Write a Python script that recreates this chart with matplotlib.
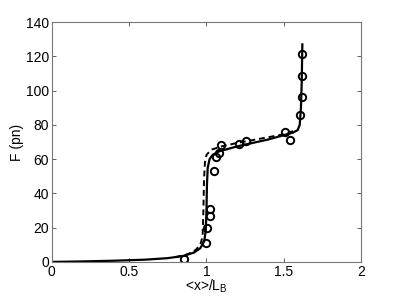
import matplotlib
matplotlib.use("Agg")
import matplotlib.pyplot as plt

plt.rcParams['font.family'] = ['Liberation Sans', 'DejaVu Sans']
plt.rcParams['mathtext.fontset'] = 'custom'
plt.rcParams['mathtext.rm'] = 'Liberation Sans'
plt.rcParams['mathtext.it'] = 'Liberation Sans'

# Measured data points (circles)
data_x = [1.620, 1.620, 1.615, 1.603, 1.506, 1.543, 1.258, 1.212, 1.092, 1.083,
          1.060, 1.049, 1.023, 1.023, 1.005, 0.997, 0.852]
data_F = [121.3, 108.5, 96.0, 86.0, 76.0, 71.0, 70.8, 68.7, 68.5, 63.4,
          61.0, 53.3, 30.9, 27.0, 19.6, 10.9, 1.9]

# Solid model curve
solid_x = [0.0, 0.2, 0.4, 0.6, 0.75, 0.85, 0.92, 0.96, 0.985, 0.995, 1.0, 1.003,
           1.008, 1.02, 1.04, 1.08, 1.2, 1.4, 1.5, 1.56, 1.59, 1.603, 1.611,
           1.616, 1.62]
solid_F = [0.0, 0.3, 0.7, 1.3, 2.2, 3.5, 5.5, 8.0, 12.0, 18.0, 30.0, 45.0,
           55.0, 60.0, 62.5, 64.5, 67.5, 71.5, 74.0, 75.5, 77.0, 80.0, 90.0,
           105.0, 127.0]

# Dashed model curve
dash_x = [0.80, 0.88, 0.93, 0.96, 0.975, 0.98, 0.984, 0.99, 1.0, 1.03, 1.1,
          1.2, 1.35, 1.5, 1.58]
dash_F = [2.8, 4.5, 7.0, 10.0, 15.0, 30.0, 48.0, 58.0, 62.5, 65.5, 67.5,
          69.5, 72.0, 74.5, 77.0]

xticks = [0, 0.5, 1, 1.5, 2]
xticklabels = ['0', '0.5', '1', '1.5', '2']
yticks = [0, 20, 40, 60, 80, 100, 120, 140]

fig = plt.figure(figsize=(3.99, 2.99), dpi=100)
ax = fig.add_axes([0.130, 0.124, 0.775, 0.802])

ax.plot(solid_x, solid_F, '-', color='black', lw=1.6)
ax.plot(dash_x, dash_F, '--', color='black', lw=1.4, dashes=(3, 2))
ax.plot(data_x, data_F, 'o', mfc='none', mec='black', mew=1.4, ms=5.3)

ax.set_xlim(0, 2)
ax.set_ylim(0, 140)
ax.set_xticks(xticks)
ax.set_xticklabels(xticklabels)
ax.set_yticks(yticks)
ax.tick_params(direction='in', top=True, right=True, length=3, width=0.6,
               colors='#444444', labelcolor='black', labelsize=10, pad=2)
for s in ax.spines.values():
    s.set_color('#777777')
    s.set_linewidth(0.8)

ax.set_xlabel('<x>/L$_\\mathrm{B}$', fontsize=10, labelpad=-1)
ax.set_ylabel('F (pn)', fontsize=10, labelpad=1)

fig.savefig('out.png', dpi=100)
